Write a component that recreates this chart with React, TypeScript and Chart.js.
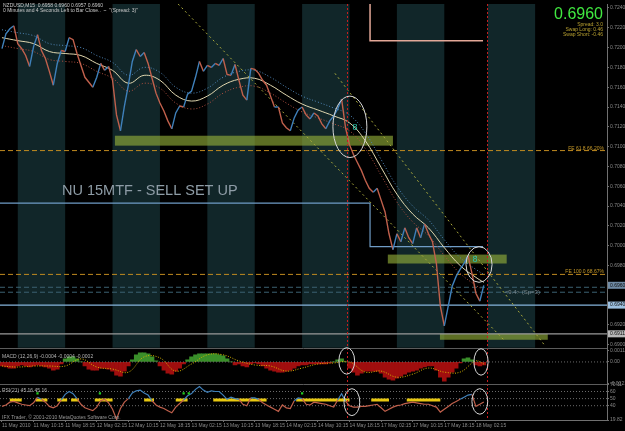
import React, { useEffect, useRef } from 'react';
import { Chart, registerables } from 'chart.js';

Chart.register(...registerables);

// ---------- data ----------
const timeLabels = [
  '11 May 2010', '11 May 10:15', '11 May 18:15', '12 May 02:15', '12 May 10:15', '12 May 18:15',
  '13 May 02:15', '13 May 10:15', '13 May 18:15', '14 May 02:15', '14 May 10:15', '14 May 18:15',
  '17 May 02:15', '17 May 10:15', '17 May 18:15', '18 May 02:15',
];

// hourly closes (index = hour from start)
const price = [
  0.7199, 0.7214, 0.7219, 0.7222, 0.7204, 0.7199, 0.7192, 0.7181, 0.7201, 0.7213,
  0.7197, 0.7189, 0.7176, 0.7162, 0.7184, 0.7197, 0.7196, 0.7210, 0.7208, 0.7194,
  0.7182, 0.7170, 0.7165, 0.7160, 0.7170, 0.7184, 0.7177, 0.7181, 0.7167, 0.7132,
  0.7116, 0.7141, 0.7162, 0.7186, 0.7198, 0.7191, 0.7195, 0.7184, 0.7169, 0.7154,
  0.7144, 0.7136, 0.7126, 0.7118, 0.7134, 0.7141, 0.7140, 0.7153, 0.7156, 0.7170,
  0.7186, 0.7176, 0.7182, 0.7180, 0.7184, 0.7182, 0.7189, 0.7173, 0.7172, 0.7183,
  0.7167, 0.7152, 0.7147, 0.7179, 0.7178, 0.7174, 0.7167, 0.7162, 0.7151, 0.7140,
  0.7140, 0.7124, 0.7119, 0.7116, 0.7129, 0.7137, 0.7140, 0.7132, 0.7128, 0.7134,
  0.7131, 0.7123, 0.7118, 0.7126, 0.7131, 0.7138, 0.7148, 0.7119, 0.7102, 0.7092,
  0.7084, 0.7076, 0.7066, 0.7058, 0.7054, 0.7058, 0.7046, 0.7034, 0.7012, 0.6996,
  0.7012, 0.7004, 0.7018, 0.7008, 0.7002, 0.7018, 0.7008, 0.7022, 0.7012, 0.7004,
  0.6982, 0.6939, 0.6919, 0.6939, 0.6959, 0.6969, 0.6976, 0.6982, 0.6990, 0.6972,
  0.6952, 0.6944, 0.6960,
];

const maHours = [0, 4, 8, 12, 16, 20, 24, 28, 32, 36, 40, 44, 48, 52, 56, 60, 64, 68, 72, 76, 80, 84, 88, 92, 96, 100, 104, 108, 112, 116, 120, 122];
const maValues = [
  0.7210, 0.7207, 0.7204, 0.7196, 0.7194, 0.7192, 0.7184, 0.7177, 0.7164, 0.7172,
  0.7167, 0.7152, 0.7146, 0.7151, 0.7162, 0.7168, 0.7169, 0.7162, 0.7152, 0.7143,
  0.7137, 0.7131, 0.7124, 0.7106, 0.7079, 0.7052, 0.7032, 0.7018, 0.6998, 0.6980,
  0.6968, 0.6963,
];
const envUpper = [
  0.7218, 0.7215, 0.7212, 0.7204, 0.7202, 0.7200, 0.7192, 0.7185, 0.7172, 0.7180,
  0.7175, 0.7160, 0.7154, 0.7159, 0.7170, 0.7176, 0.7177, 0.7170, 0.7160, 0.7151,
  0.7145, 0.7139, 0.7132, 0.7114, 0.7087, 0.7060, 0.7040, 0.7026, 0.7006, 0.6988,
  0.6976, 0.6971,
];
const envLower = [
  0.7202, 0.7199, 0.7196, 0.7188, 0.7186, 0.7184, 0.7176, 0.7169, 0.7156, 0.7164,
  0.7159, 0.7144, 0.7138, 0.7143, 0.7154, 0.7160, 0.7161, 0.7154, 0.7144, 0.7135,
  0.7129, 0.7123, 0.7116, 0.7098, 0.7071, 0.7044, 0.7024, 0.7010, 0.6990, 0.6972,
  0.6960, 0.6955,
];

const macdHist = [
  -0.0004, -0.0005, -0.0006, -0.0006, -0.0004, -0.0003, -0.0004, -0.0005, -0.0004, -0.0003,
  -0.0004, -0.0005, -0.0006, -0.0008, -0.0007, -0.0002, 0.0003, 0.0005, 0.0005, 0.0003,
  0.0000, -0.0004, -0.0007, -0.0008, -0.0008, -0.0006, -0.0006, -0.0007, -0.0009, -0.0013,
  -0.0014, -0.0009, -0.0004, 0.0002, 0.0007, 0.0009, 0.0009, 0.0008, 0.0005, 0.0001,
  -0.0004, -0.0008, -0.0011, -0.0012, -0.0009, -0.0006, -0.0002, 0.0002, 0.0005, 0.0007,
  0.0008, 0.0008, 0.0008, 0.0008, 0.0008, 0.0007, 0.0006, 0.0003, 0.0000, -0.0003,
  -0.0002, -0.0004, -0.0005, -0.0002, -0.0001, -0.0002, -0.0004, -0.0006, -0.0008, -0.0009,
  -0.0010, -0.0010, -0.0009, -0.0008, -0.0006, -0.0004, -0.0003, -0.0003, -0.0002, -0.0002,
  -0.0002, -0.0002, -0.0002, -0.0001, 0.0000, 0.0002, 0.0003, 0.0000, -0.0006, -0.0010,
  -0.0013, -0.0011, -0.0009, -0.0009, -0.0009, -0.0009, -0.0011, -0.0015, -0.0017, -0.0018,
  -0.0016, -0.0014, -0.0012, -0.0010, -0.0009, -0.0008, -0.0006, -0.0005, -0.0004, -0.0004,
  -0.0008, -0.0015, -0.0019, -0.0015, -0.0010, -0.0006, -0.0001, 0.0003, 0.0004, 0.0002,
  -0.0003, -0.0004, -0.0003,
];
const signalValues = [
  -0.0004, -0.0005, -0.0004, -0.0004, -0.0004, 0.0003, -0.0005, -0.0007, -0.0010, 0.0005,
  0.0004, -0.0009, -0.0002, 0.0007, 0.0007, 0.0001, -0.0003, -0.0004, -0.0009, -0.0006,
  -0.0002, -0.0001, 0.0000, -0.0010, -0.0009, -0.0015, -0.0012, -0.0006, -0.0010, -0.0010,
  0.0001, -0.0002,
];

const rsiValues = [
  39, 41, 45, 46, 44, 42, 41, 40, 44, 52,
  49, 45, 39, 37, 40, 48, 56, 60, 57, 50,
  42, 37, 35, 33, 38, 47, 49, 44, 35, 21,
  36, 45, 50, 58, 61, 62, 58, 55, 47, 41,
  38, 36, 33, 30, 38, 43, 48, 54, 57, 63,
  67, 62, 59, 61, 60, 60, 55, 49, 52, 50,
  49, 42, 40, 51, 51, 49, 44, 41, 38, 35,
  32, 41, 37, 36, 47, 51, 50, 42, 41, 45,
  44, 43, 42, 40, 38, 48, 57, 46, 40, 38,
  38, 39, 39, 40, 41, 42, 37, 32, 35, 38,
  40, 41, 43, 44, 45, 44, 43, 42, 42, 40,
  38, 31, 35, 39, 43, 46, 49, 52, 55, 56,
  39, 42, 45.16,
];
const rsiFlatSegments = [[2, 5], [8.5, 11.5], [14, 16.5], [17.5, 19.5], [23.5, 28], [36, 38.5], [44, 47], [53.5, 67], [74.5, 88], [93.5, 98], [102.5, 111]];
const rsiFlatLevel = 48;
const rsiMarkHours = [9, 24.8, 46, 47.3, 76];
const rsiMarkLevel = 57.5;

const mainTicks = [0.7240, 0.7220, 0.7200, 0.7180, 0.7160, 0.7140, 0.7120, 0.7100, 0.7080, 0.7060, 0.7040, 0.7020, 0.7000, 0.6980, 0.6960, 0.6940, 0.6920, 0.6900];
const macdTicks = [0.0011, 0, -0.0021];
const rsiTicks = [70.11, 60, 50, 40, 19.82];
const rsiLevels = [60, 50, 40];

const sessionBands = [[4, 16], [28, 40], [52, 64], [76, 88], [100, 112], [123, 135]];
// [startHour, endHour, topPrice, bottomPrice]
const greenZones = [[28.6, 99, 0.7111, 0.7101], [97.7, 127.8, 0.6991, 0.6982], [110.9, 138.2, 0.6911, 0.6905]];

const fe618Level = 0.7096;
const fe100Level = 0.6971;
const targetLevel = 0.6940;
const supportLevel = 0.6911;
const dashLevels = [0.6958, 0.6953];
const stepLineHours = [-1, 93.2, 93.2, 121.8];
const stepLinePrices = [0.7043, 0.7043, 0.6999, 0.6999];
const pinkHours = [93.2, 93.2, 121.8];
const pinkPrices = [0.7250, 0.7207, 0.7207];
const trendA = [[44.6, 0.7244], [127.3, 0.6904]];
const trendB = [[84.3, 0.7174], [137.5, 0.6899]];
const markerHours = [87.3, 122.8];
const axisBoxValues = [0.6960, 0.6940, 0.6911];

const X_MIN = -0.5;
const X_MAX = 153.2;

const FONT = '"Liberation Sans", Arial, sans-serif';

// ---------- plugin ----------
const ellipses = [
  { axis: 'y', hx: 88.1, v: 0.7120, rh: 4.3, rv: 0.0031 },
  { axis: 'y', hx: 120.8, v: 0.6981, rh: 3.3, rv: 0.0018 },
  { axis: 'yMacd', hx: 87.3, v: 0.0001, rh: 2.0, rv: 0.0013 },
  { axis: 'yMacd', hx: 121.3, v: 0.0, rh: 1.8, rv: 0.0013 },
  { axis: 'yRsi', hx: 88.6, v: 45, rh: 2.0, rv: 19 },
  { axis: 'yRsi', hx: 121, v: 46, rh: 2.0, rv: 18 },
];

const mtPlugin = {
  id: 'mt',
  beforeDraw(chart: any) {
    const { ctx, width, height } = chart;
    const xs = chart.scales.x, ys = chart.scales.y;
    ctx.save();
    ctx.fillStyle = '#000000';
    ctx.fillRect(0, 0, width, height);
    ctx.fillStyle = '#112629';
    for (const [a, b] of sessionBands) {
      const xa = xs.getPixelForValue(a), xb = xs.getPixelForValue(b);
      ctx.fillRect(xa, ys.top, xb - xa, ys.bottom - ys.top);
    }
    ctx.restore();
  },
  beforeDatasetsDraw(chart: any) {
    const { ctx } = chart;
    const xs = chart.scales.x, ys = chart.scales.y;
    ctx.save();
    ctx.fillStyle = 'rgba(150,178,58,0.62)';
    for (const [h0, h1, t, b] of greenZones) {
      const x0 = xs.getPixelForValue(h0), x1 = xs.getPixelForValue(h1);
      const y0 = ys.getPixelForValue(t), y1 = ys.getPixelForValue(b);
      ctx.fillRect(x0, y0, x1 - x0, y1 - y0);
    }
    ctx.restore();
  },
  afterDatasetsDraw(chart: any) {
    const { ctx, chartArea } = chart;
    const xs = chart.scales.x;
    ctx.save();
    // red vertical markers
    ctx.strokeStyle = '#c81e1e';
    ctx.setLineDash([2, 2]);
    ctx.lineWidth = 1;
    for (const h of markerHours) {
      const px = Math.round(xs.getPixelForValue(h)) + 0.5;
      ctx.beginPath();
      ctx.moveTo(px, chartArea.top);
      ctx.lineTo(px, chartArea.bottom);
      ctx.stroke();
    }
    ctx.setLineDash([]);
    // panel separators
    ctx.strokeStyle = '#5c5c5c';
    for (const id of ['y', 'yMacd']) {
      const yb = Math.round(chart.scales[id].bottom) + 0.5;
      ctx.beginPath();
      ctx.moveTo(chartArea.left, yb);
      ctx.lineTo(chartArea.right, yb);
      ctx.stroke();
    }
    // ellipses
    ctx.strokeStyle = '#d8d8d8';
    ctx.lineWidth = 1;
    for (const e of ellipses) {
      const sc = chart.scales[e.axis];
      const cx = xs.getPixelForValue(e.hx);
      const cy = sc.getPixelForValue(e.v);
      const rx = Math.abs(xs.getPixelForValue(e.hx + e.rh) - cx);
      const ry = Math.abs(sc.getPixelForValue(e.v + e.rv) - cy);
      ctx.beginPath();
      ctx.ellipse(cx, cy, rx, ry, 0, 0, Math.PI * 2);
      ctx.stroke();
    }
    // glyphs inside circles
    const ys = chart.scales.y;
    ctx.fillStyle = '#2ec8b0';
    ctx.font = `9px ${FONT}`;
    ctx.textAlign = 'center';
    ctx.textBaseline = 'middle';
    ctx.fillText('8', xs.getPixelForValue(89.4), ys.getPixelForValue(0.7119));
    ctx.fillText('8', xs.getPixelForValue(119.8), ys.getPixelForValue(0.6986));
    ctx.restore();
  },
  afterDraw(chart: any) {
    const { ctx, chartArea } = chart;
    const xs = chart.scales.x, ys = chart.scales.y;
    ctx.save();
    ctx.textBaseline = 'alphabetic';
    // header
    ctx.font = `5px ${FONT}`;
    ctx.fillStyle = '#c8c8c8';
    ctx.textAlign = 'left';
    ctx.fillText('NZDUSD,M15  0.6958 0.6960 0.6957 0.6960', 3, 7);
    ctx.fillText('0 Minutes and 4 Seconds Left to Bar Close..  ~  "(Spread: 3)"', 3, 12);
    // big price
    ctx.textAlign = 'right';
    ctx.fillStyle = '#40e840';
    ctx.font = `16px ${FONT}`;
    ctx.fillText('0.6960', 603, 19);
    ctx.font = `5px ${FONT}`;
    ctx.fillStyle = '#b8a030';
    ctx.fillText('Spread: 3.0', 603, 26);
    ctx.fillText('Swap Long: 0.46', 603, 31);
    ctx.fillText('Swap Short: -0.46', 603, 36);
    // FE labels
    ctx.fillStyle = '#c89a28';
    ctx.fillText('FE 61.8 66.20%', 604, ys.getPixelForValue(fe618Level) - 1);
    ctx.fillText('FE 100.0 68.67%', 604, ys.getPixelForValue(fe100Level) - 1);
    // setup text
    ctx.textAlign = 'left';
    ctx.fillStyle = '#8e9ca6';
    ctx.font = `14.5px ${FONT}`;
    ctx.fillText('NU 15MTF - SELL SET UP', 62, 195);
    ctx.font = `6px ${FONT}`;
    ctx.fillStyle = '#7c8a90';
    ctx.fillText('<9.4> (Sp=3)', xs.getPixelForValue(127.3), ys.getPixelForValue(0.6951));
    // indicator labels
    ctx.font = `5px ${FONT}`;
    ctx.fillStyle = '#b4b4b4';
    ctx.fillText('MACD (12,26,9) -0.0004 -0.0004 -0.0002', 2, chart.scales.yMacd.top + 10);
    ctx.fillText('RSI(21) 45.16 45.16', 2, chart.scales.yRsi.top + 8);
    ctx.fillStyle = '#9a9a9a';
    ctx.fillText('IFX Trader, \u00a9 2001-2010 MetaQuotes Software Corp.', 2, chartArea.bottom - 1);
    // axis price boxes
    const boxBg = ['#6f8aa4', '#9cc0e0', '#b8b8b8'];
    ctx.font = `5px ${FONT}`;
    ctx.textBaseline = 'middle';
    axisBoxValues.forEach((v, i) => {
      const py = ys.getPixelForValue(v);
      ctx.fillStyle = boxBg[i];
      ctx.fillRect(chartArea.right + 1, py - 3.5, 17, 7);
      ctx.fillStyle = '#101010';
      ctx.fillText(v.toFixed(4), chartArea.right + 3, py);
    });
    ctx.restore();
  },
};

// ---------- helpers ----------
const hLine = (v: number, color: string, dash: number[], width: number, order: number) => ({
  type: 'line',
  data: [{ x: X_MIN, y: v }, { x: X_MAX, y: v }],
  borderColor: color,
  borderDash: dash,
  borderWidth: width,
  pointRadius: 0,
  yAxisID: 'y',
  order,
});

const axisTickStyle = {
  color: '#8a8a8a',
  font: { size: 5, family: FONT },
  padding: 1,
  autoSkip: false,
};

export default function App() {
  const ref = useRef<HTMLCanvasElement>(null);

  useEffect(() => {
    const canvas = ref.current;
    if (!canvas) return;
    Chart.defaults.font.family = FONT;

    const blue = '#3f80ba';
    const red = '#c0604c';

    const rsiFlatData: any[] = [];
    rsiFlatSegments.forEach(([a, b]) => {
      rsiFlatData.push({ x: a, y: rsiFlatLevel }, { x: b, y: rsiFlatLevel }, { x: b + 0.01, y: null });
    });

    const datasets: any[] = [
      {
        type: 'line',
        data: price.map((p, i) => ({ x: i, y: p })),
        yAxisID: 'y',
        borderWidth: 1.4,
        pointRadius: 0,
        borderColor: blue,
        segment: {
          borderColor: (c: any) => (c.p1.parsed.y >= c.p0.parsed.y ? blue : red),
        },
        order: 0,
      },
      {
        type: 'line',
        data: maHours.map((h, i) => ({ x: h, y: maValues[i] })),
        yAxisID: 'y',
        borderColor: '#e0d6ae',
        borderWidth: 1,
        pointRadius: 0,
        tension: 0.4,
        order: 1,
      },
      {
        type: 'line',
        data: maHours.map((h, i) => ({ x: h, y: envUpper[i] })),
        yAxisID: 'y',
        borderColor: '#4f86b8',
        borderDash: [1, 2],
        borderWidth: 1,
        pointRadius: 0,
        tension: 0.4,
        order: 2,
      },
      {
        type: 'line',
        data: maHours.map((h, i) => ({ x: h, y: envLower[i] })),
        yAxisID: 'y',
        borderColor: '#b05040',
        borderDash: [1, 2],
        borderWidth: 1,
        pointRadius: 0,
        tension: 0.4,
        order: 2,
      },
      {
        type: 'line',
        data: trendA.map(([h, v]) => ({ x: h, y: v })),
        yAxisID: 'y',
        borderColor: '#a8a83c',
        borderDash: [2, 3],
        borderWidth: 1,
        pointRadius: 0,
        order: 3,
      },
      {
        type: 'line',
        data: trendB.map(([h, v]) => ({ x: h, y: v })),
        yAxisID: 'y',
        borderColor: '#a8a83c',
        borderDash: [2, 3],
        borderWidth: 1,
        pointRadius: 0,
        order: 3,
      },
      {
        type: 'line',
        data: stepLineHours.map((h, i) => ({ x: h, y: stepLinePrices[i] })),
        yAxisID: 'y',
        borderColor: '#6f9cc6',
        borderWidth: 1.2,
        pointRadius: 0,
        order: 4,
      },
      {
        type: 'line',
        data: pinkHours.map((h, i) => ({ x: h, y: pinkPrices[i] })),
        yAxisID: 'y',
        borderColor: '#e4a898',
        borderWidth: 1.5,
        pointRadius: 0,
        order: 4,
      },
      hLine(fe618Level, '#c08a20', [5, 3], 1, 5),
      hLine(fe100Level, '#c08a20', [5, 3], 1, 5),
      hLine(targetLevel, '#86b4dc', [], 1.2, 5),
      hLine(supportLevel, '#9a9a9a', [], 1.2, 5),
      ...dashLevels.map((v) => hLine(v, '#3c6272', [5, 3], 1, 5)),
      // MACD
      {
        type: 'bar',
        data: macdHist.map((v, i) => ({ x: i, y: v })),
        yAxisID: 'yMacd',
        backgroundColor: macdHist.map((v) => (v >= 0 ? '#3a8f2a' : '#a00e0e')),
        borderWidth: 0,
        barPercentage: 1,
        categoryPercentage: 1,
        grouped: false,
        order: 8,
      },
      {
        type: 'line',
        data: [{ x: X_MIN, y: 0 }, { x: X_MAX, y: 0 }],
        yAxisID: 'yMacd',
        borderColor: '#6a6a6a',
        borderDash: [1, 2],
        borderWidth: 1,
        pointRadius: 0,
        order: 7,
      },
      {
        type: 'line',
        data: maHours.map((h, i) => ({ x: h, y: signalValues[i] })),
        yAxisID: 'yMacd',
        borderColor: '#d8b400',
        borderDash: [1, 1.5],
        borderWidth: 1,
        pointRadius: 0,
        tension: 0.4,
        order: 6,
      },
      // RSI
      ...rsiLevels.map((v) => ({
        type: 'line',
        data: [{ x: X_MIN, y: v }, { x: X_MAX, y: v }],
        yAxisID: 'yRsi',
        borderColor: '#6a6a6a',
        borderDash: [1, 2],
        borderWidth: 1,
        pointRadius: 0,
        order: 9,
      })),
      {
        type: 'line',
        data: rsiFlatData,
        yAxisID: 'yRsi',
        borderColor: '#e8c810',
        borderWidth: 3,
        pointRadius: 0,
        spanGaps: false,
        order: 8,
      },
      {
        type: 'line',
        data: rsiValues.map((v, i) => ({ x: i, y: v })),
        yAxisID: 'yRsi',
        borderWidth: 1.2,
        pointRadius: 0,
        borderColor: red,
        segment: {
          borderColor: (c: any) => ((c.p0.parsed.y + c.p1.parsed.y) / 2 >= 48.5 ? blue : red),
        },
        order: 6,
      },
      {
        type: 'line',
        data: rsiMarkHours.map((h) => ({ x: h, y: rsiMarkLevel })),
        yAxisID: 'yRsi',
        showLine: false,
        pointStyle: 'rect',
        pointRadius: 1.6,
        pointBackgroundColor: '#22cc22',
        pointBorderWidth: 0,
        order: 5,
      },
    ];

    const chart = new Chart(canvas, {
      type: 'line',
      data: { datasets },
      options: {
        responsive: false,
        animation: false,
        devicePixelRatio: 1,
        events: [],
        layout: { padding: 0, autoPadding: false },
        plugins: { legend: { display: false }, tooltip: { enabled: false } },
        elements: { point: { radius: 0 }, line: { tension: 0 } },
        scales: {
          x: {
            type: 'linear',
            min: X_MIN,
            max: X_MAX,
            offset: false,
            position: 'bottom',
            grid: { display: true, drawOnChartArea: false, drawTicks: true, tickLength: 2, color: '#707070', offset: false },
            border: { display: true, color: '#707070' },
            afterBuildTicks: (s: any) => {
              s.ticks = timeLabels.map((_, i) => ({ value: i * 8 }));
            },
            afterFit: (s: any) => {
              s.height = 11;
            },
            ticks: {
              ...axisTickStyle,
              align: 'start',
              maxRotation: 0,
              minRotation: 0,
              callback: (_v: any, i: number) => timeLabels[i],
            },
          },
          y: {
            type: 'linear',
            position: 'right',
            stack: 'panels',
            stackWeight: 347,
            min: 0.6897,
            max: 0.7244,
            grid: { display: true, drawOnChartArea: false, drawTicks: true, tickLength: 2, color: '#707070' },
            border: { display: true, color: '#707070' },
            afterBuildTicks: (s: any) => {
              s.ticks = mainTicks.map((v) => ({ value: v }));
            },
            afterFit: (s: any) => {
              s.width = 18;
            },
            ticks: { ...axisTickStyle, callback: (v: any) => Number(v).toFixed(4) },
          },
          yMacd: {
            type: 'linear',
            position: 'right',
            stack: 'panels',
            stackWeight: 37,
            min: -0.0022,
            max: 0.0014,
            beginAtZero: false,
            grid: { display: true, drawOnChartArea: false, drawTicks: true, tickLength: 2, color: '#707070' },
            border: { display: true, color: '#707070' },
            afterBuildTicks: (s: any) => {
              s.ticks = macdTicks.map((v) => ({ value: v }));
            },
            afterFit: (s: any) => {
              s.width = 18;
            },
            ticks: { ...axisTickStyle, callback: (v: any) => (Number(v) === 0 ? '0.00' : Number(v).toFixed(4)) },
          },
          yRsi: {
            type: 'linear',
            position: 'right',
            stack: 'panels',
            stackWeight: 36,
            min: 19.82,
            max: 70.11,
            grid: { display: true, drawOnChartArea: false, drawTicks: true, tickLength: 2, color: '#707070' },
            border: { display: true, color: '#707070' },
            afterBuildTicks: (s: any) => {
              s.ticks = rsiTicks.map((v) => ({ value: v }));
            },
            afterFit: (s: any) => {
              s.width = 18;
            },
            ticks: { ...axisTickStyle, callback: (v: any) => String(v) },
          },
        },
      } as any,
      plugins: [mtPlugin],
    } as any);

    return () => chart.destroy();
  }, []);

  return (
    <div style={{ position: 'fixed', left: 0, top: 0, width: 625, height: 431, background: '#000' }}>
      <canvas ref={ref} width={625} height={431} style={{ display: 'block' }} />
    </div>
  );
}
